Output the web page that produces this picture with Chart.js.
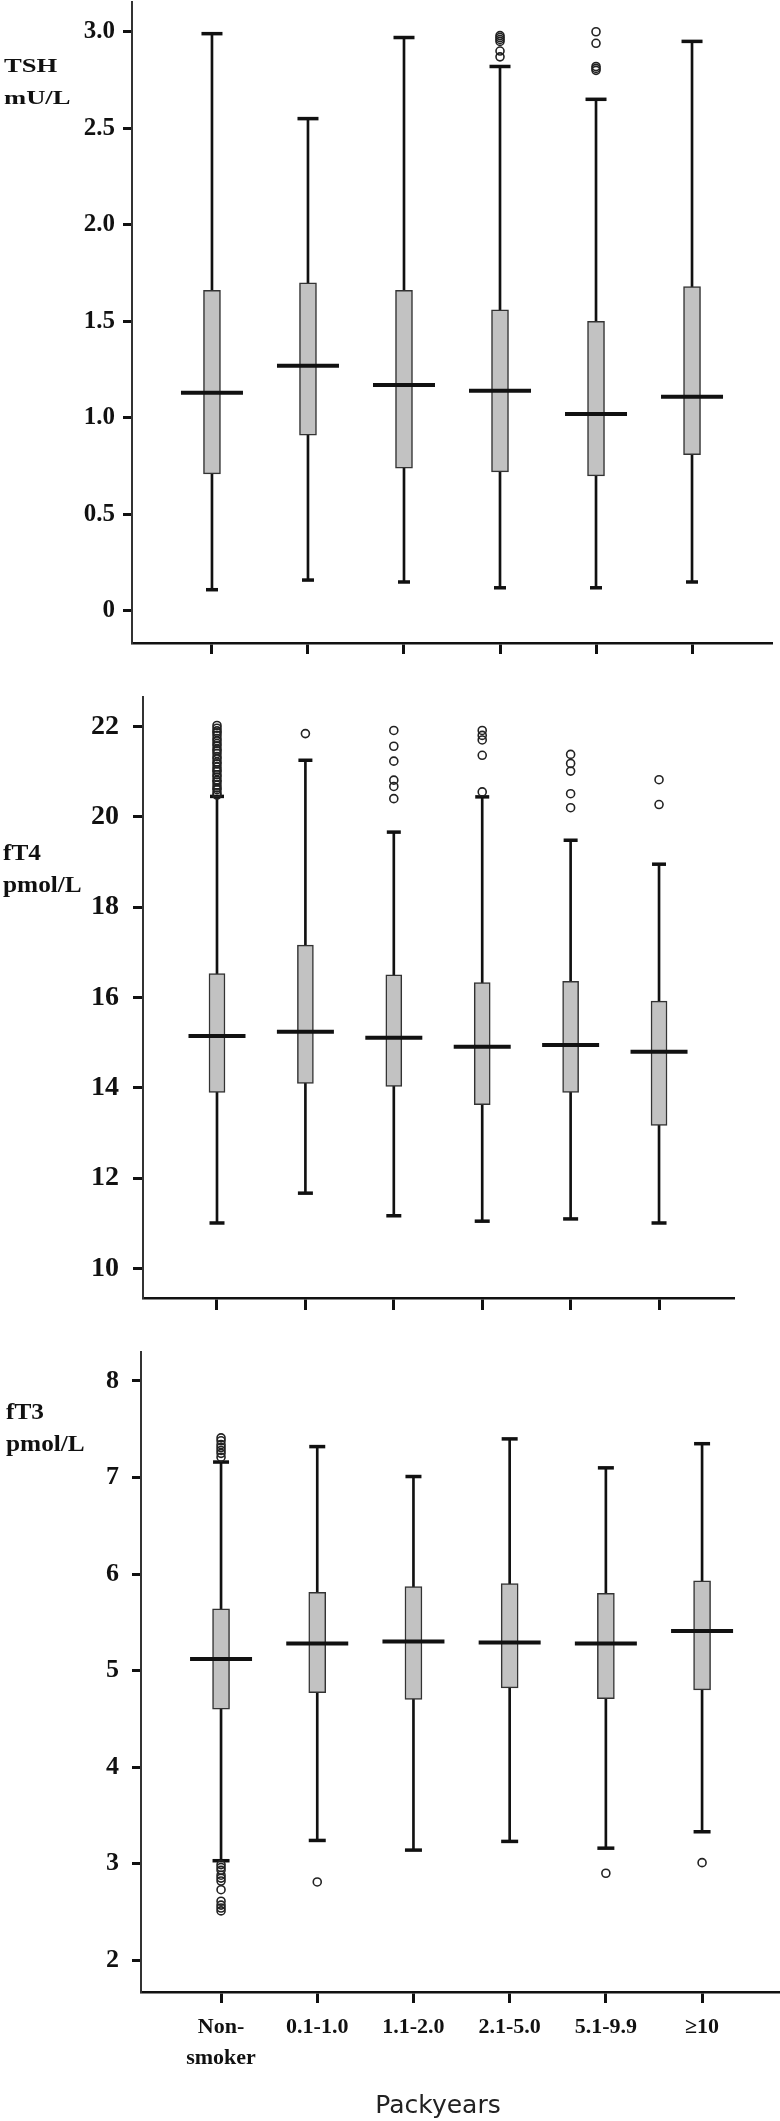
<!DOCTYPE html>
<html>
<head>
<meta charset="utf-8">
<script src="https://cdn.jsdelivr.net/npm/chart.js@4.4.1/dist/chart.umd.min.js"></script>
<style>
    html, body { margin: 0; padding: 0; background: #fff; }
    body { position: relative; width: 780px; height: 2121px; overflow: hidden; }
    .panel { position: absolute; left: 0; width: 780px; }
    .ytitle { position: absolute; font: bold 23px "Liberation Serif", serif; line-height: 32px; color: #111; transform-origin: 0 0; }
    .ytitle.wide { font-size: 19px; transform: scaleX(1.4); }
    .ytitle.mid { transform: scaleX(1.1); }
    #xtitle { position: absolute; left: 288px; width: 300px; top: 2090px; text-align: center; font: 25px "DejaVu Sans", sans-serif; color: #222; }
</style>
</head>
<body>
<div class="panel" style="top:0;height:680px"><canvas id="tshChart"></canvas></div>
<div class="panel" style="top:672px;height:648px"><canvas id="ft4Chart"></canvas></div>
<div class="panel" style="top:1320px;height:801px"><canvas id="ft3Chart"></canvas></div>

<div class="ytitle wide" style="left:4px;top:50px">TSH<br>mU/L</div>
<div class="ytitle mid" style="left:3px;top:837px">fT4<br>pmol/L</div>
<div class="ytitle mid" style="left:6px;top:1396px">fT3<br>pmol/L</div>
<div id="xtitle">Packyears</div>

<script>
const categories = ['Non-smoker', '0.1-1.0', '1.1-2.0', '2.1-5.0', '5.1-9.9', '≥10'];
const tickLabels = [['Non-', 'smoker'], '0.1-1.0', '1.1-2.0', '2.1-5.0', '5.1-9.9', '≥10'];

// TSH mU/L
const tshLow = [0.11, 0.16, 0.15, 0.12, 0.12, 0.15];
const tshQ1 = [0.71, 0.91, 0.74, 0.72, 0.70, 0.81];
const tshMedian = [1.13, 1.27, 1.17, 1.14, 1.02, 1.11];
const tshQ3 = [1.66, 1.70, 1.66, 1.56, 1.50, 1.68];
const tshHigh = [2.99, 2.55, 2.97, 2.82, 2.65, 2.95];
const tshOutliers = [[], [], [], [2.87, 2.90, 2.95, 2.96, 2.97, 2.98], [2.80, 2.81, 2.82, 2.94, 3.00], []];
const tshTicks = [0, 0.5, 1.0, 1.5, 2.0, 2.5, 3.0];

// fT4 pmol/L
const ft4Low = [11.01, 11.67, 11.17, 11.05, 11.10, 11.01];
const ft4Q1 = [13.90, 14.10, 14.03, 13.63, 13.90, 13.17];
const ft4Median = [15.15, 15.24, 15.11, 14.91, 14.95, 14.80];
const ft4Q3 = [16.53, 17.16, 16.50, 16.33, 16.36, 15.92];
const ft4High = [20.45, 21.25, 19.66, 20.44, 19.48, 18.95];
const ft4Outliers = [
    [20.48, 20.53, 20.60, 20.64, 20.70, 20.77, 20.81, 20.88, 20.93, 21.00, 21.04, 21.10, 21.17, 21.21,
     21.28, 21.33, 21.40, 21.46, 21.50, 21.57, 21.62, 21.68, 21.73, 21.80, 21.86, 21.90, 21.96, 22.02],
    [21.84],
    [20.40, 20.67, 20.81, 21.23, 21.56, 21.91],
    [20.55, 21.36, 21.70, 21.80, 21.91],
    [20.20, 20.51, 21.01, 21.18, 21.38],
    [20.27, 20.82]
];
const ft4Ticks = [10, 12, 14, 16, 18, 20, 22];

// fT3 pmol/L
const ft3Low = [3.03, 3.24, 3.14, 3.23, 3.16, 3.33];
const ft3Q1 = [4.60, 4.77, 4.70, 4.82, 4.71, 4.80];
const ft3Median = [5.12, 5.28, 5.30, 5.29, 5.28, 5.41];
const ft3Q3 = [5.64, 5.81, 5.87, 5.90, 5.80, 5.93];
const ft3High = [7.16, 7.32, 7.01, 7.40, 7.10, 7.35];
const ft3Outliers = [
    [2.51, 2.54, 2.57, 2.61, 2.73, 2.82, 2.85, 2.88, 2.93, 2.96, 2.99, 7.21, 7.25, 7.28, 7.31, 7.34, 7.38, 7.41],
    [2.81], [], [], [2.90], [3.01]
];
const ft3Ticks = [2, 3, 4, 5, 6, 7, 8];

const ink = '#111';
const serif = '"Liberation Serif", "Times New Roman", serif';

// stop Chart.js from reserving room for half-labels at the axis ends
function noScalePadding(s) {
    s.paddingTop = 0;
    s.paddingBottom = 0;
    s.paddingLeft = 0;
    s.paddingRight = 0;
}

function boxChart(id, d, g) {
    const pts = arr => arr.map((v, i) => ({ x: i, y: v }));
    const outlierPts = d.outliers.flatMap((vals, i) => vals.map(v => ({ x: i, y: v })));

    return new Chart(document.getElementById(id), {
        type: 'bar',
        data: {
            datasets: [
                {
                    // outliers
                    type: 'line', order: 0, showLine: false, data: outlierPts,
                    pointStyle: 'circle', pointRadius: 4, pointBorderWidth: 1.6,
                    pointBackgroundColor: 'rgba(255,255,255,0)', pointBorderColor: '#222'
                },
                {
                    // median
                    type: 'line', order: 1, showLine: false, data: pts(d.median),
                    pointStyle: 'line', pointRadius: g.medianR, pointBorderWidth: 4, pointBorderColor: ink
                },
                {
                    // upper whisker cap
                    type: 'line', order: 2, showLine: false, data: pts(d.high),
                    pointStyle: 'line', pointRadius: g.capHiR, pointBorderWidth: 3.5, pointBorderColor: ink
                },
                {
                    // lower whisker cap
                    type: 'line', order: 2, showLine: false, data: pts(d.low),
                    pointStyle: 'line', pointRadius: g.capLoR, pointBorderWidth: 3.5, pointBorderColor: ink
                },
                {
                    // box q1..q3
                    order: 3, grouped: false, barThickness: g.boxW,
                    data: d.q1.map((v, i) => ({ x: i, y: [v, d.q3[i]] })),
                    backgroundColor: '#c2c2c2', borderColor: '#333', borderWidth: 1.5, borderSkipped: false
                },
                {
                    // whisker line
                    order: 4, grouped: false, barThickness: 2,
                    data: d.low.map((v, i) => ({ x: i, y: [v, d.high[i]] })),
                    backgroundColor: ink, borderWidth: 0
                }
            ]
        },
        options: {
            responsive: true,
            maintainAspectRatio: false,
            animation: false,
            events: [],
            layout: { autoPadding: false, padding: { top: g.padTop, right: g.padRight, left: 0, bottom: 0 } },
            plugins: { legend: { display: false }, tooltip: { enabled: false } },
            scales: {
                x: {
                    type: 'linear', min: g.xMin, max: g.xMax, offset: false,
                    afterBuildTicks: s => { s.ticks = categories.map((c, i) => ({ value: i })); },
                    afterFit: s => { s.height = g.xHeight; noScalePadding(s); },
                    ticks: {
                        display: g.showLabels, autoSkip: false, maxRotation: 0, padding: 9,
                        color: ink, font: { family: serif, size: 22, weight: 'bold', lineHeight: 1.4 },
                        callback: v => tickLabels[v]
                    },
                    grid: { offset: false, drawOnChartArea: false, drawTicks: true, tickLength: g.xTickLen, tickWidth: 3, tickColor: ink },
                    border: { display: true, color: ink, width: 2.5 }
                },
                y: {
                    min: g.yMin, max: g.yMax, beginAtZero: false,
                    afterBuildTicks: s => { s.ticks = d.ticks.map(v => ({ value: v })); },
                    afterFit: s => { s.width = g.yWidth; noScalePadding(s); },
                    ticks: {
                        padding: g.labelPad, color: ink,
                        font: { family: serif, size: g.fontSize, weight: 'bold' },
                        callback: g.fmt
                    },
                    grid: { drawOnChartArea: false, drawTicks: true, tickLength: g.yTickLen, tickWidth: 3, tickColor: ink },
                    border: { display: true, color: '#333', width: 2 }
                }
            }
        }
    });
}

boxChart('tshChart',
    { low: tshLow, q1: tshQ1, median: tshMedian, q3: tshQ3, high: tshHigh, outliers: tshOutliers, ticks: tshTicks },
    {
        padTop: 2, padRight: 8, yWidth: 132, xHeight: 37, xMin: -0.833, xMax: 5.833, yMin: -0.166, yMax: 3.154,
        boxW: 17, medianR: 31, capHiR: 10.5, capLoR: 6, fontSize: 25, labelPad: 8, yTickLen: 9, xTickLen: 11,
        showLabels: false, fmt: v => (v === 0 ? '0' : v.toFixed(1))
    });

boxChart('ft4Chart',
    { low: ft4Low, q1: ft4Q1, median: ft4Median, q3: ft4Q3, high: ft4High, outliers: ft4Outliers, ticks: ft4Ticks },
    {
        padTop: 25, padRight: 46, yWidth: 143, xHeight: 22, xMin: -0.837, xMax: 5.848, yMin: 9.35, yMax: 22.65,
        boxW: 16, medianR: 28.5, capHiR: 7, capLoR: 7.5, fontSize: 28, labelPad: 14, yTickLen: 10, xTickLen: 12,
        showLabels: false, fmt: v => String(v)
    });

boxChart('ft3Chart',
    { low: ft3Low, q1: ft3Q1, median: ft3Median, q3: ft3Q3, high: ft3High, outliers: ft3Outliers, ticks: ft3Ticks },
    {
        padTop: 32, padRight: 0, yWidth: 141, xHeight: 129, xMin: -0.832, xMax: 5.81, yMin: 1.67, yMax: 8.30,
        boxW: 17, medianR: 31, capHiR: 8, capLoR: 8.5, fontSize: 26, labelPad: 13, yTickLen: 9, xTickLen: 11,
        showLabels: true, fmt: v => String(v)
    });
</script>
</body>
</html>
